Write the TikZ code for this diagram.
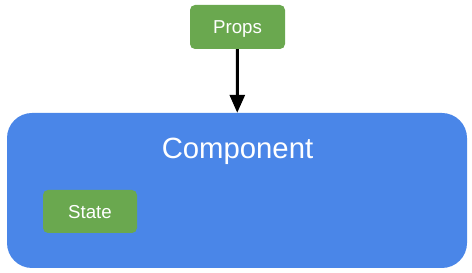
\documentclass[tikz,border=0pt]{standalone}
\usepackage{fontspec}
\setmainfont{Liberation Sans}
\usetikzlibrary{arrows.meta}
\usetikzlibrary{positioning}

\definecolor{compblue}{HTML}{4A86E8}
\definecolor{boxgreen}{HTML}{6AA84F}

\begin{document}
\begin{tikzpicture}[x=1pt, y=1pt,
		greenbox/.style={rectangle, rounded corners=5pt, fill=boxgreen, text=white, inner sep=0pt, text depth=0pt,
			minimum width=95pt, minimum height=44pt, font=\fontsize{18.7}{22}\selectfont},
		compbox/.style={rectangle, rounded corners=25pt, fill=compblue, inner sep=0pt,
			minimum width=460pt, minimum height=155pt}]
				\useasboundingbox (0,0) rectangle (472,273);
				
				\node[compbox] (C) at (237,82.5) {};
				\node[text=white, text depth=0pt, font=\fontsize{29.3}{35}\selectfont] (CL) at (237.5,125) {Component};
				
				\node[greenbox] (P) at (237.5,246) {Props};
				\node[greenbox, minimum width=94pt, minimum height=43pt] (S) at (90,61.5) {State};
				
				\draw[line width=3pt, -{Triangle[width=15pt,length=18pt]}]  (P) -- (C);
			\end{tikzpicture}
\end{document}
